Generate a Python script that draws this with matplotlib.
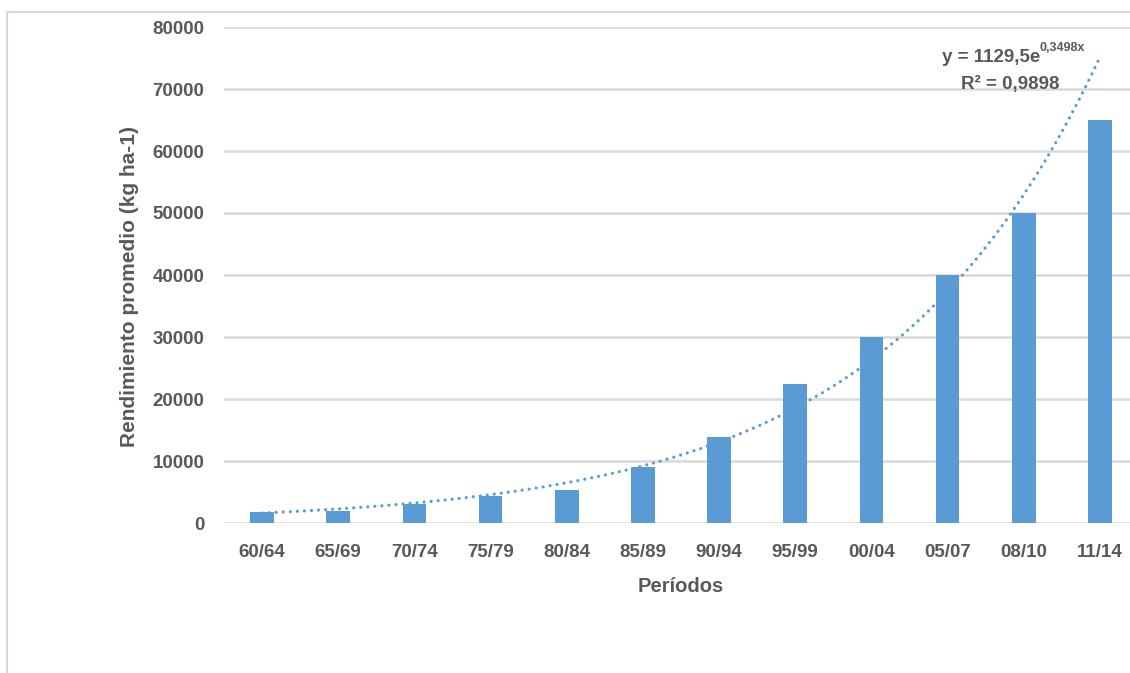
import matplotlib
matplotlib.use('Agg')
import matplotlib.pyplot as plt
from matplotlib.patches import Rectangle
import numpy as np

# data
periodos = ['60/64', '65/69', '70/74', '75/79', '80/84', '85/89',
            '90/94', '95/99', '00/04', '05/07', '08/10', '11/14']
rendimiento = [1800, 2000, 3000, 4300, 5400, 9000,
               13900, 22400, 30000, 40000, 50000, 65000]
# exponential trendline shown on the chart: y = 1129,5 e^(0,3498x)
coef_a = 1129.5
coef_b = 0.3498
r2_label = 'R² = 0,9898'

azul = '#5b9bd5'
gris_texto = '#595959'
gris_linea = '#d9d9d9'

plt.rcParams['font.family'] = ['Liberation Sans', 'DejaVu Sans']
plt.rcParams['font.weight'] = 'bold'

fig = plt.figure(figsize=(11.3, 6.73), dpi=100)

# outer chart frame (cut off on the right / bottom)
fig.patches.append(Rectangle((7 / 1130, -0.05), 1.2, (673 - 12) / 673 + 0.05,
                             transform=fig.transFigure, fill=False,
                             edgecolor=gris_linea, linewidth=1.5))

ax = fig.add_axes([224 / 1130, 150 / 673, 914 / 1130, 496 / 673])

x = np.arange(len(periodos))
ax.bar(x, rendimiento, width=0.31, color=azul, zorder=3)

# trendline across the bar centres (x = 1..12 in Excel terms)
xt = np.linspace(0, len(periodos) - 1, 200)
yt = coef_a * np.exp(coef_b * (xt + 1))
ax.plot(xt, yt, linestyle=(0, (0.01, 2.2)), dash_capstyle='round',
        color=azul, linewidth=2.3, zorder=4)

ax.set_xlim(-0.5, len(periodos) - 0.5)
ax.set_ylim(0, 80000)
ax.set_yticks(np.arange(0, 80001, 10000))
ax.set_xticks(x)
ax.set_xticklabels(periodos)
ax.grid(axis='y', color=gris_linea, linewidth=1.8, zorder=0)
for s in ax.spines.values():
    s.set_visible(False)
ax.tick_params(axis='both', length=0, labelsize=13.5, labelcolor=gris_texto)
ax.tick_params(axis='y', pad=14)
ax.tick_params(axis='x', pad=15)
for lab in ax.get_xticklabels() + ax.get_yticklabels():
    lab.set_fontweight('bold')

ax.set_xlabel('Períodos', fontsize=14.5, color=gris_texto, fontweight='bold', labelpad=12)
ax.set_ylabel('Rendimiento promedio (kg ha-1)', fontsize=15, color=gris_texto,
              fontweight='bold')
ax.yaxis.set_label_coords(-0.093, 0.476)

# trendline equation
t = fig.text(1040 / 1130, 1 - 58 / 673, 'y = 1129,5e', ha='right', va='center',
             fontsize=13.5, color=gris_texto, fontweight='bold')
ax.annotate('0,3498x', xy=(1, 0.72), xycoords=t, ha='left', va='bottom',
            fontsize=9, color=gris_texto, fontweight='bold')
fig.text(1010 / 1130, 1 - 84 / 673, r2_label, ha='center', va='center',
         fontsize=13.5, color=gris_texto, fontweight='bold')

plt.savefig('out.png', dpi=100)
